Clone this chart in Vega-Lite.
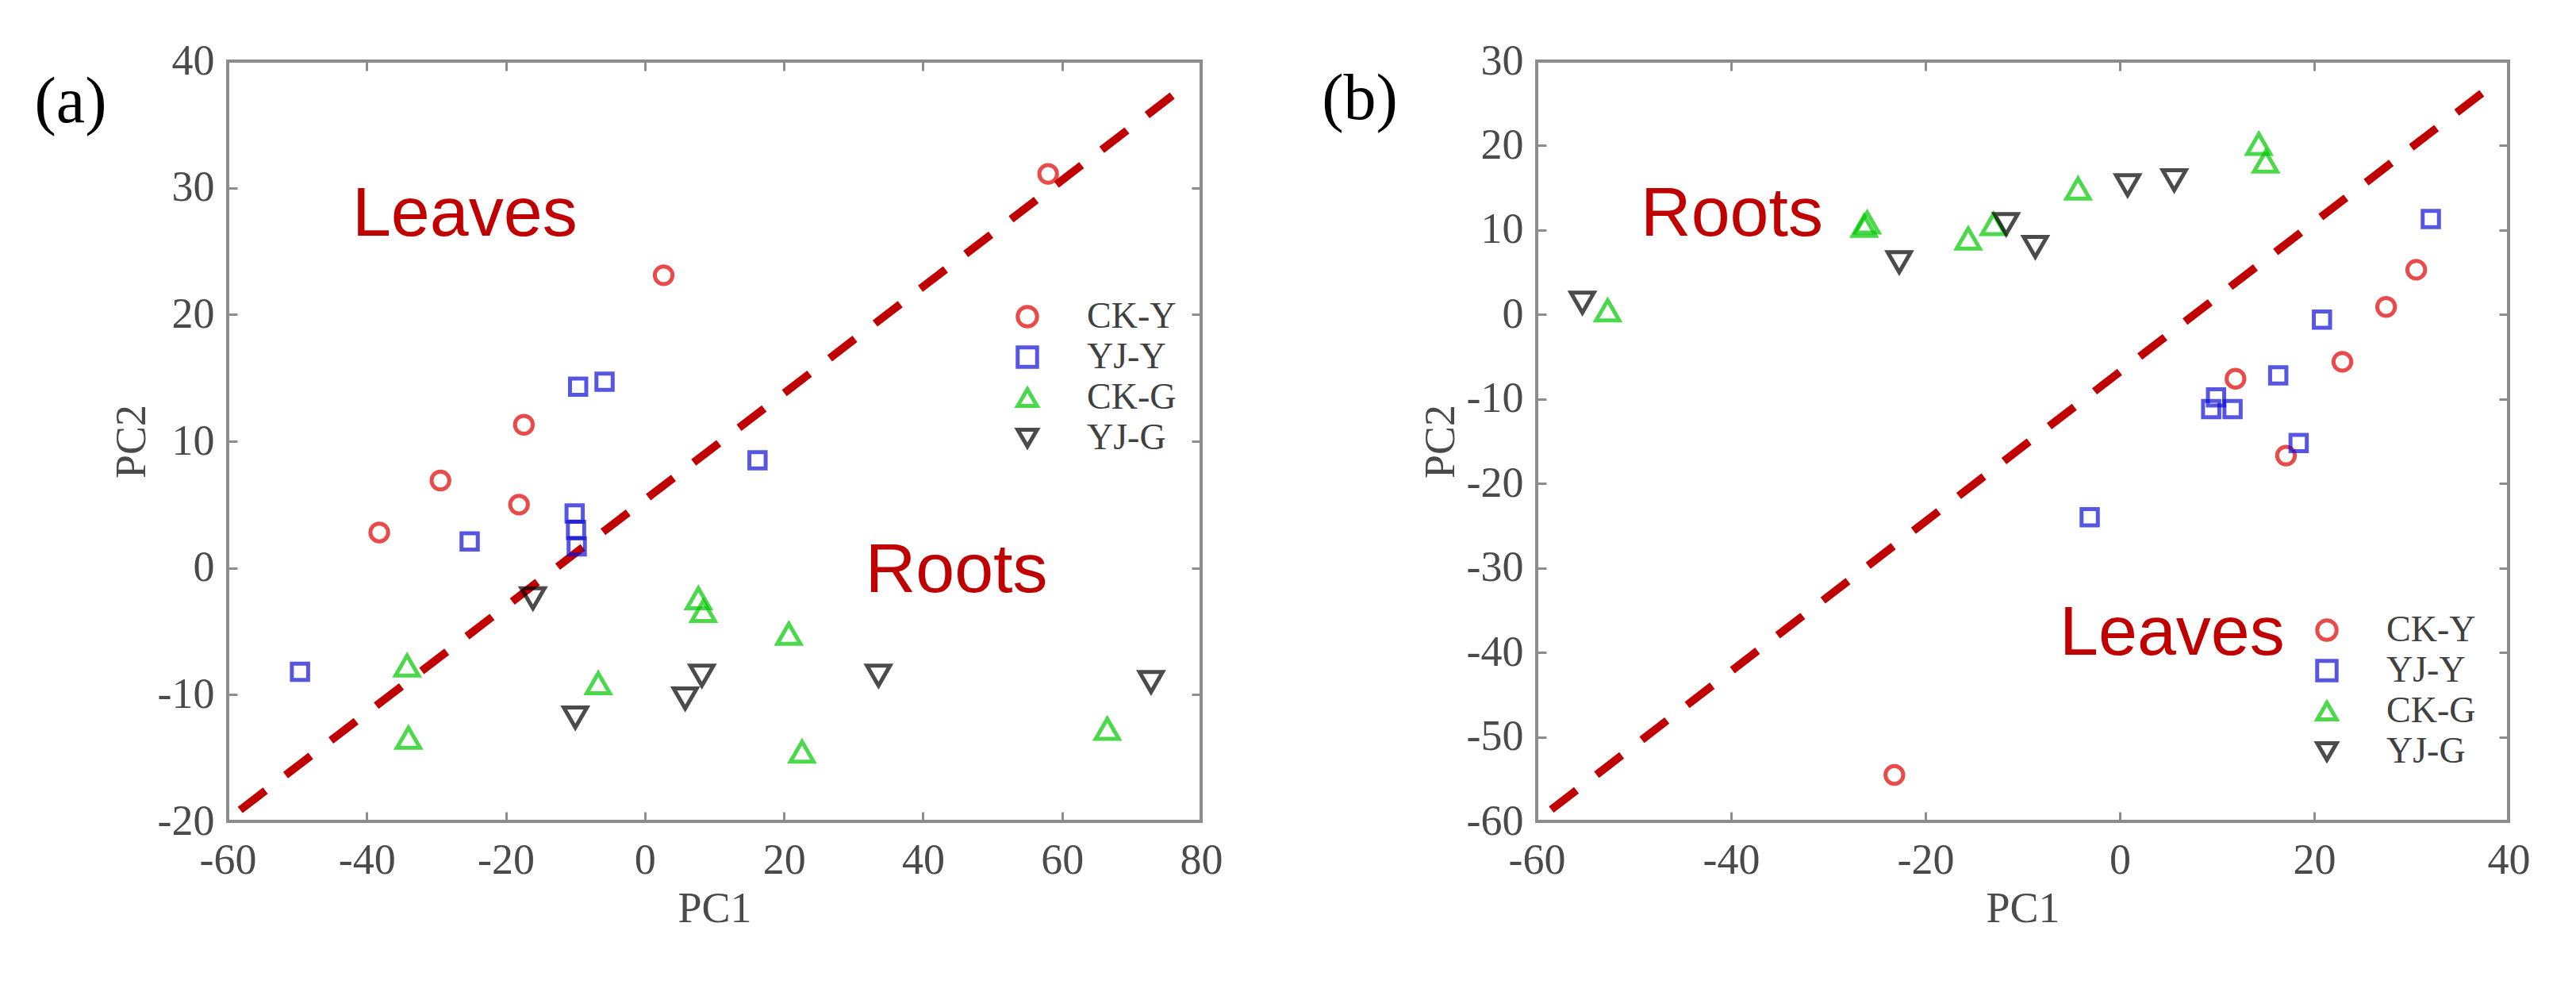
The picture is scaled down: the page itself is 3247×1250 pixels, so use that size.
{
  "$schema": "https://vega.github.io/schema/vega-lite/v6.json",
  "background": "white",
  "padding": {"left": 41, "top": 48, "right": 0, "bottom": 0},
  "spacing": 121,
  "datasets": {
    "pa": [
      {"pc1": 2.7, "pc2": 23.1, "group": "CK-Y"},
      {"pc1": -17.4, "pc2": 11.3, "group": "CK-Y"},
      {"pc1": -29.4, "pc2": 6.9, "group": "CK-Y"},
      {"pc1": -18.1, "pc2": 5.0, "group": "CK-Y"},
      {"pc1": -38.2, "pc2": 2.8, "group": "CK-Y"},
      {"pc1": 58.0, "pc2": 31.1, "group": "CK-Y"},
      {"pc1": -9.6, "pc2": 14.3, "group": "YJ-Y"},
      {"pc1": -5.8, "pc2": 14.7, "group": "YJ-Y"},
      {"pc1": -25.2, "pc2": 2.1, "group": "YJ-Y"},
      {"pc1": -10.1, "pc2": 4.3, "group": "YJ-Y"},
      {"pc1": -9.9, "pc2": 3.0, "group": "YJ-Y"},
      {"pc1": -9.8, "pc2": 1.7, "group": "YJ-Y"},
      {"pc1": -49.6, "pc2": -8.2, "group": "YJ-Y"},
      {"pc1": 16.2, "pc2": 8.5, "group": "YJ-Y"},
      {"pc1": -34.2, "pc2": -7.7, "group": "CK-G"},
      {"pc1": -34.0, "pc2": -13.4, "group": "CK-G"},
      {"pc1": -6.7, "pc2": -9.1, "group": "CK-G"},
      {"pc1": 7.7, "pc2": -2.4, "group": "CK-G"},
      {"pc1": 8.4, "pc2": -3.4, "group": "CK-G"},
      {"pc1": 20.7, "pc2": -5.2, "group": "CK-G"},
      {"pc1": 22.6, "pc2": -14.5, "group": "CK-G"},
      {"pc1": 66.5, "pc2": -12.7, "group": "CK-G"},
      {"pc1": -16.1, "pc2": -2.4, "group": "YJ-G"},
      {"pc1": -10.0, "pc2": -11.8, "group": "YJ-G"},
      {"pc1": 5.8, "pc2": -10.3, "group": "YJ-G"},
      {"pc1": 8.2, "pc2": -8.5, "group": "YJ-G"},
      {"pc1": 33.6, "pc2": -8.5, "group": "YJ-G"},
      {"pc1": 72.8, "pc2": -9.0, "group": "YJ-G"}
    ],
    "pb": [
      {"pc1": -23.2, "pc2": -54.5, "group": "CK-Y"},
      {"pc1": 11.9, "pc2": -7.6, "group": "CK-Y"},
      {"pc1": 17.1, "pc2": -16.7, "group": "CK-Y"},
      {"pc1": 22.9, "pc2": -5.6, "group": "CK-Y"},
      {"pc1": 27.4, "pc2": 0.9, "group": "CK-Y"},
      {"pc1": 30.5, "pc2": 5.3, "group": "CK-Y"},
      {"pc1": -3.1, "pc2": -24.0, "group": "YJ-Y"},
      {"pc1": 9.4, "pc2": -11.2, "group": "YJ-Y"},
      {"pc1": 9.9, "pc2": -9.8, "group": "YJ-Y"},
      {"pc1": 11.6, "pc2": -11.2, "group": "YJ-Y"},
      {"pc1": 16.3, "pc2": -7.2, "group": "YJ-Y"},
      {"pc1": 18.4, "pc2": -15.2, "group": "YJ-Y"},
      {"pc1": 20.8, "pc2": -0.6, "group": "YJ-Y"},
      {"pc1": 32.0, "pc2": 11.3, "group": "YJ-Y"},
      {"pc1": -52.7, "pc2": 0.5, "group": "CK-G"},
      {"pc1": -26.3, "pc2": 10.5, "group": "CK-G"},
      {"pc1": -26.0, "pc2": 10.9, "group": "CK-G"},
      {"pc1": -15.6, "pc2": 9.0, "group": "CK-G"},
      {"pc1": -13.0, "pc2": 10.7, "group": "CK-G"},
      {"pc1": -4.3, "pc2": 14.9, "group": "CK-G"},
      {"pc1": 14.3, "pc2": 20.2, "group": "CK-G"},
      {"pc1": 15.0, "pc2": 18.1, "group": "CK-G"},
      {"pc1": -55.3, "pc2": 1.4, "group": "YJ-G"},
      {"pc1": -22.7, "pc2": 6.2, "group": "YJ-G"},
      {"pc1": -11.7, "pc2": 10.7, "group": "YJ-G"},
      {"pc1": -8.7, "pc2": 8.0, "group": "YJ-G"},
      {"pc1": 0.8, "pc2": 15.3, "group": "YJ-G"},
      {"pc1": 5.6, "pc2": 15.9, "group": "YJ-G"}
    ],
    "la": [
      {"pc1": -58.2, "pc2": -19.1},
      {"pc1": 78.3, "pc2": 38.3}
    ],
    "lb": [
      {"pc1": -58.5, "pc2": -58.6},
      {"pc1": 38.6, "pc2": 27.4}
    ],
    "ta": [
      {"pc1": -42.1, "pc2": 26.2, "label": "Leaves"},
      {"pc1": 31.7, "pc2": -1.9, "label": "Roots"}
    ],
    "tb": [
      {"pc1": -49.3, "pc2": 9.3, "label": "Roots"},
      {"pc1": -6.2, "pc2": -40.3, "label": "Leaves"}
    ],
    "na": [{"pc1": -82.6, "pc2": 35.2, "label": "(a)"}],
    "nb": [{"pc1": -78.2, "pc2": 23.1, "label": "(b)"}]
  },
  "resolve": {"legend": {"color": "independent", "shape": "independent"}},
  "hconcat": [
    {
      "width": 1227,
      "height": 958,
      "resolve": {"axis": {"x": "independent", "y": "independent"}},
      "layer": [
        {
          "data": {"name": "la"},
          "mark": {"type": "line", "color": "#c00000", "strokeWidth": 10, "strokeDash": [40, 32], "strokeCap": "butt"},
          "encoding": {
            "x": {"field": "pc1", "type": "quantitative", "scale": {"domain": [-60, 80], "nice": false, "zero": false}, "axis": {"orient": "top", "labels": false, "title": null, "values": [-60, -40, -20, 0, 20, 40, 60, 80]}},
            "y": {"field": "pc2", "type": "quantitative", "scale": {"domain": [-20, 40], "nice": false, "zero": false}, "axis": {"orient": "right", "labels": false, "title": null, "values": [-20, -10, 0, 10, 20, 30, 40]}}
          }
        },
        {
          "data": {"name": "pa"},
          "mark": {"type": "point", "filled": false, "strokeWidth": 5},
          "encoding": {
            "x": {"field": "pc1", "type": "quantitative", "axis": {"orient": "bottom", "title": "PC1", "values": [-60, -40, -20, 0, 20, 40, 60, 80]}},
            "y": {"field": "pc2", "type": "quantitative", "axis": {"orient": "left", "title": "PC2", "values": [-20, -10, 0, 10, 20, 30, 40]}},
            "color": {"field": "group", "type": "nominal",
              "scale": {"domain": ["CK-Y", "YJ-Y", "CK-G", "YJ-G"], "range": ["#e00000", "#1010d8", "#00c800", "#000000"]},
              "legend": {"title": null, "orient": "none", "legendX": 985, "legendY": 299, "padding": 0, "labelFont": "Liberation Serif", "labelFontSize": 46, "labelColor": "#404040", "symbolStrokeWidth": 5, "symbolSize": 600, "labelOffset": 52, "rowPadding": 5}},
            "shape": {"field": "group", "type": "nominal",
              "scale": {"domain": ["CK-Y", "YJ-Y", "CK-G", "YJ-G"], "range": ["circle", "square", "triangle-up", "triangle-down"]}},
            "size": {"condition": [{"test": "datum.group === 'CK-Y'", "value": 500}, {"test": "datum.group === 'YJ-Y'", "value": 420}], "value": 850}
          }
        },
        {
          "data": {"name": "ta"},
          "mark": {"type": "text", "font": "Liberation Sans", "fontSize": 88, "color": "#c00000", "align": "left", "baseline": "alphabetic"},
          "encoding": {
            "x": {"field": "pc1", "type": "quantitative", "axis": null},
            "y": {"field": "pc2", "type": "quantitative", "axis": null},
            "text": {"field": "label"}
          }
        },
        {
          "data": {"name": "na"},
          "mark": {"type": "text", "font": "Liberation Serif", "fontSize": 82, "color": "#000000", "align": "center", "baseline": "alphabetic"},
          "encoding": {
            "x": {"field": "pc1", "type": "quantitative", "axis": null},
            "y": {"field": "pc2", "type": "quantitative", "axis": null},
            "text": {"field": "label"}
          }
        }
      ]
    },
    {
      "width": 1225,
      "height": 958,
      "resolve": {"axis": {"x": "independent", "y": "independent"}},
      "layer": [
        {
          "data": {"name": "lb"},
          "mark": {"type": "line", "color": "#c00000", "strokeWidth": 10, "strokeDash": [40, 32], "strokeCap": "butt"},
          "encoding": {
            "x": {"field": "pc1", "type": "quantitative", "scale": {"domain": [-60, 40], "nice": false, "zero": false}, "axis": {"orient": "top", "labels": false, "title": null, "values": [-60, -40, -20, 0, 20, 40]}},
            "y": {"field": "pc2", "type": "quantitative", "scale": {"domain": [-60, 30], "nice": false, "zero": false}, "axis": {"orient": "right", "labels": false, "title": null, "values": [-60, -50, -40, -30, -20, -10, 0, 10, 20, 30]}}
          }
        },
        {
          "data": {"name": "pb"},
          "mark": {"type": "point", "filled": false, "strokeWidth": 5},
          "encoding": {
            "x": {"field": "pc1", "type": "quantitative", "axis": {"orient": "bottom", "title": "PC1", "values": [-60, -40, -20, 0, 20, 40]}},
            "y": {"field": "pc2", "type": "quantitative", "axis": {"orient": "left", "title": "PC2", "values": [-60, -50, -40, -30, -20, -10, 0, 10, 20, 30]}},
            "color": {"field": "group", "type": "nominal",
              "scale": {"domain": ["CK-Y", "YJ-Y", "CK-G", "YJ-G"], "range": ["#e00000", "#1010d8", "#00c800", "#000000"]},
              "legend": {"title": null, "orient": "none", "legendX": 973, "legendY": 694, "padding": 0, "labelFont": "Liberation Serif", "labelFontSize": 46, "labelColor": "#404040", "symbolStrokeWidth": 5, "symbolSize": 600, "labelOffset": 52, "rowPadding": 5}},
            "shape": {"field": "group", "type": "nominal",
              "scale": {"domain": ["CK-Y", "YJ-Y", "CK-G", "YJ-G"], "range": ["circle", "square", "triangle-up", "triangle-down"]}},
            "size": {"condition": [{"test": "datum.group === 'CK-Y'", "value": 500}, {"test": "datum.group === 'YJ-Y'", "value": 420}], "value": 850}
          }
        },
        {
          "data": {"name": "tb"},
          "mark": {"type": "text", "font": "Liberation Sans", "fontSize": 88, "color": "#c00000", "align": "left", "baseline": "alphabetic"},
          "encoding": {
            "x": {"field": "pc1", "type": "quantitative", "axis": null},
            "y": {"field": "pc2", "type": "quantitative", "axis": null},
            "text": {"field": "label"}
          }
        },
        {
          "data": {"name": "nb"},
          "mark": {"type": "text", "font": "Liberation Serif", "fontSize": 82, "color": "#000000", "align": "center", "baseline": "alphabetic"},
          "encoding": {
            "x": {"field": "pc1", "type": "quantitative", "axis": null},
            "y": {"field": "pc2", "type": "quantitative", "axis": null},
            "text": {"field": "label"}
          }
        }
      ]
    }
  ],
  "config": {
    "view": {"stroke": "#8c8c8c", "strokeWidth": 4},
    "axis": {"domain": false, "grid": false, "labelFont": "Liberation Serif", "labelFontSize": 54, "labelColor": "#4a4a4a", "titleFont": "Liberation Serif", "titleFontSize": 54, "titleFontWeight": "normal", "titleColor": "#4a4a4a", "tickSize": -12, "tickColor": "#8c8c8c", "tickWidth": 3, "labelFlush": false, "labelOverlap": false, "labelBound": false, "labelExpr": "replace(datum.label, '\u2212', '-')"},
    "axisBottom": {"labelPadding": 34, "titlePadding": 7},
    "axisLeft": {"labelPadding": 29, "titlePadding": 5}
  }
}
